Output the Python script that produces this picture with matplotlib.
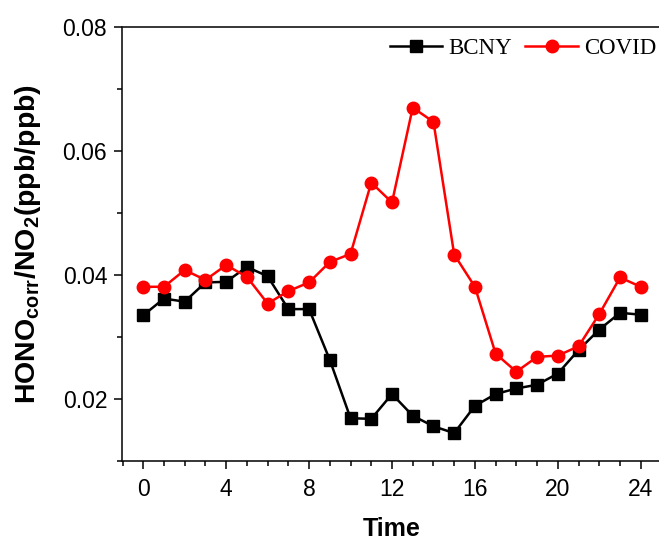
import numpy as np
import matplotlib
matplotlib.use("Agg")
import matplotlib.pyplot as plt
from matplotlib.ticker import MultipleLocator

# hourly HONOcorr/NO2 ratio
hours = list(range(25))
bcny = [0.0335, 0.0362, 0.0357, 0.0388, 0.0389, 0.0413, 0.0398, 0.0345, 0.0345,
        0.0263, 0.0169, 0.0168, 0.0208, 0.0173, 0.0156, 0.0145, 0.0189, 0.0208,
        0.0217, 0.0223, 0.0241, 0.0279, 0.0312, 0.0339, 0.0336]
covid = [0.0381, 0.0381, 0.0408, 0.0392, 0.0416, 0.0397, 0.0354, 0.0374, 0.0388,
         0.0421, 0.0434, 0.0549, 0.0517, 0.0670, 0.0647, 0.0433, 0.0381, 0.0273,
         0.0244, 0.0268, 0.0270, 0.0285, 0.0337, 0.0396, 0.0381]

plt.rcParams['font.family'] = ['Liberation Sans', 'DejaVu Sans']
plt.rcParams['mathtext.fontset'] = 'custom'
plt.rcParams['mathtext.rm'] = 'Liberation Sans:bold'
plt.rcParams['mathtext.it'] = 'Liberation Sans:bold'
plt.rcParams['mathtext.bf'] = 'Liberation Sans:bold'

fig = plt.figure(figsize=(6.59, 5.43), dpi=100)
ax = fig.add_axes([122.5 / 659, 82 / 543, 539 / 659, 434 / 543])

ax.plot(hours, bcny, color='black', marker='s', markersize=8, linewidth=1.8,
        label='BCNY')
ax.plot(hours, covid, color='red', marker='o', markersize=9, linewidth=1.8,
        label='COVID')

ax.set_xlim(-1, 25)
ax.set_ylim(0.01, 0.08)
ax.xaxis.set_major_locator(MultipleLocator(4))
ax.xaxis.set_minor_locator(MultipleLocator(1))
ax.yaxis.set_minor_locator(MultipleLocator(0.01))
ax.set_yticks([0.02, 0.04, 0.06, 0.08])
ax.set_yticklabels(['0.02', '0.04', '0.06', '0.08'])

ax.spines['right'].set_visible(False)
for s in ['left', 'bottom', 'top']:
    ax.spines[s].set_linewidth(1.1)
ax.tick_params(which='major', direction='out', length=6, width=1.1,
               labelsize=16.5)
ax.tick_params(axis='y', which='major', pad=5)
ax.tick_params(axis='x', which='major', pad=6)
ax.tick_params(which='minor', direction='out', length=3.5, width=1.1)
ax.tick_params(top=False, right=False, which='both')

ax.set_xlabel('Time', fontsize=18, fontweight='bold', labelpad=12)
ax.set_ylabel(r'HONO$_{\mathrm{corr}}$/NO$_{\mathrm{2}}$(ppb/ppb)',
              fontsize=20.5, fontweight='bold', labelpad=14)

fig.legend(loc='upper right', bbox_to_anchor=(656 / 659, 1 - 38 / 543),
           ncol=2, frameon=False, borderaxespad=0, borderpad=0,
           handlelength=2.3, handletextpad=0.25, columnspacing=0.6,
           prop={'family': 'Liberation Serif', 'size': 16.5})

fig.savefig('out.png', dpi=100)
